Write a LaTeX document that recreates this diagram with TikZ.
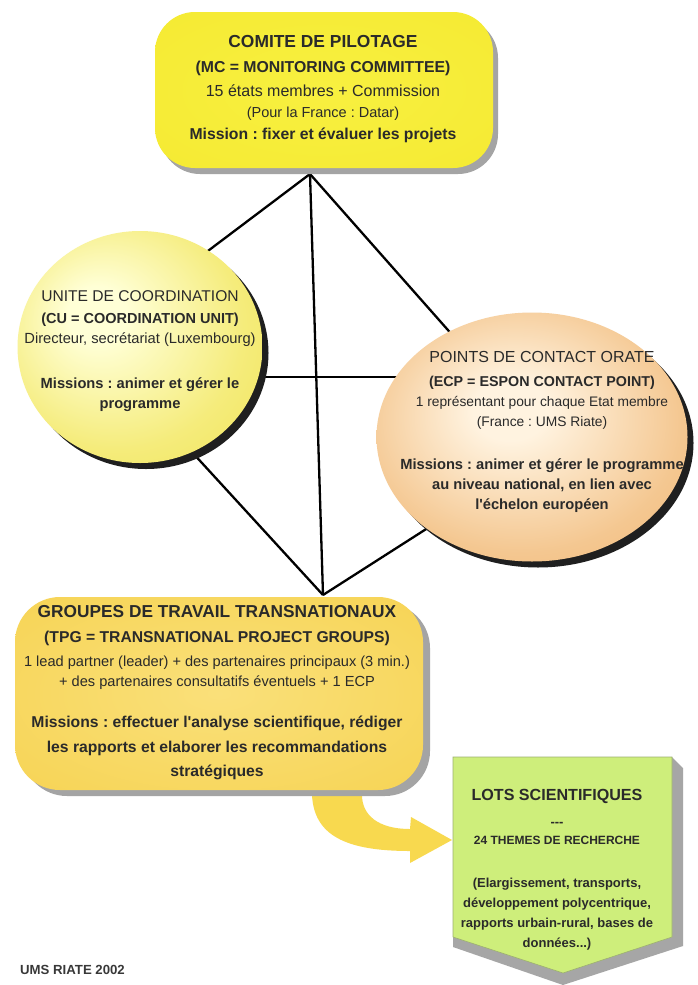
\documentclass[tikz,border=0pt]{standalone}
\usepackage{fontspec}
\newfontfamily\arialf{Liberation Sans}
\usetikzlibrary{shapes.geometric,shadows}
\frenchspacing
\definecolor{txtc}{HTML}{2A2A2A}
\definecolor{cpin}{HTML}{F8F040}
\definecolor{cpout}{HTML}{F3E62A}
\definecolor{cuin}{HTML}{FFFFD6}
\definecolor{cuout}{HTML}{EEDF3E}
\definecolor{ecpin}{HTML}{FFF3E0}
\definecolor{ecpout}{HTML}{EDAA5C}
\definecolor{tpgin}{HTML}{FAE07A}
\definecolor{tpgout}{HTML}{F5CF46}
\definecolor{lotc}{HTML}{CEEE7B}
\definecolor{lotedge}{HTML}{9DB070}
\definecolor{bevel}{HTML}{A6A6A6}
\definecolor{boxshadow}{HTML}{A4A4A4}
\definecolor{arrowc}{HTML}{F8D94F}
\pgfdeclareradialshading{cushade}{\pgfpoint{-10bp}{8bp}}{color(0bp)=(cuin); color(6bp)=(cuin); color(26bp)=(cuin!40!cuout); color(50bp)=(cuout)}
\pgfdeclareradialshading{ecpshade}{\pgfpoint{-4bp}{6bp}}{color(0bp)=(ecpin); color(6bp)=(ecpin); color(26bp)=(ecpin!40!ecpout); color(50bp)=(ecpout)}
\pgfdeclareradialshading{cpshade}{\pgfpoint{0bp}{0bp}}{color(0bp)=(cpin); color(30bp)=(cpin!50!cpout); color(52bp)=(cpout)}
\pgfdeclareradialshading{tpgshade}{\pgfpoint{0bp}{0bp}}{color(0bp)=(tpgin); color(30bp)=(tpgin!40!tpgout); color(52bp)=(tpgout)}
\newcommand\setsz[1]{\fontsize{#1}{20}\selectfont}
\tikzset{
  conn/.style={line width=2.3pt, black},
  lbl/.style={align=center, inner sep=0pt, text=txtc, font=\arialf\fontsize{14.6}{20}\selectfont},
  rbox/.style={rectangle, inner sep=0pt, shade, draw=none},
  cshadow/.style={drop shadow={shadow xshift=6pt, shadow yshift=-6pt, fill=black!88, opacity=1}},
  bshadow/.style={drop shadow={shadow xshift=5pt, shadow yshift=-6pt, fill=boxshadow, opacity=1}}
}
\begin{document}
\begin{tikzpicture}[x=1pt,y=-1pt]
\useasboundingbox (0,0) rectangle (697,985);
\fill[white] (0,0) rectangle (697,985);

% connector points
\coordinate (apex) at (310,174);
\coordinate (base) at (323,595);
\coordinate (cuU) at (180,272);
\coordinate (ecpU) at (470,355);
\coordinate (cuM) at (200,377);
\coordinate (ecpM) at (450,377);
\coordinate (cuB) at (180,439);
\coordinate (ecpB) at (470,501);
\draw[conn] (apex) -- (cuU);
\draw[conn] (apex) -- (ecpU);
\draw[conn] (apex) -- (base);
\draw[conn] (cuM) -- (ecpM);
\draw[conn] (cuB) -- (base);
\draw[conn] (ecpB) -- (base);

% curved arrow
\fill[arrowc] (312,780) -- (312,795) .. controls (314,835) and (345,851) .. (410,851)
  -- (410,863) -- (452,840) -- (411,817) -- (410,829)
  .. controls (378,829) and (362,815) .. (362,795) -- (362,780) -- cycle;

% top box
\node[rbox, bshadow, shading=cpshade, minimum width=338pt, minimum height=156pt, rounded corners=40pt] (cp) at (324,90) {};
% left circle
\node[ellipse, inner sep=0pt, shade, shading=cushade, cshadow, minimum width=245pt, minimum height=232pt] (cu) at (140,347) {};
% right circle
\node[ellipse, inner sep=0pt, shade, shading=ecpshade, cshadow, minimum width=311pt, minimum height=249pt] (ecp) at (532,437) {};
% bottom box
\node[rbox, drop shadow={shadow xshift=7pt, shadow yshift=-6pt, fill=boxshadow, opacity=1}, shading=tpgshade, minimum width=408pt, minimum height=193pt, rounded corners=45pt] (tpg) at (219,693.5) {};

% lots box with bevel
\fill[bevel] (453,757) -- (672,757) -- (683,768) -- (683,946) -- (563,985) -- (453,947) -- cycle;
\filldraw[fill=lotc, draw=lotedge, line width=0.6pt] (453,757) -- (672,757) -- (672,937) -- (563,973) -- (453,937) -- cycle;

% texts
\node[lbl] (cptext) at (323,89) {%
{\setsz{17.4}\bfseries COMITE DE PILOTAGE}\\[5pt]
{\setsz{15.8}\bfseries (MC = MONITORING COMMITTEE)}\\[4pt]
{\setsz{16}15 états membres + Commission}\\[1pt]
{\setsz{14.5}(Pour la France : Datar)}\\[2pt]
{\setsz{15.75}\bfseries Mission : fixer et évaluer les projets}};

\node[lbl] (cutext) at (140,351.5) {%
{\setsz{15.6}UNITE DE COORDINATION}\\[2pt]
{\setsz{14.5}\bfseries (CU = COORDINATION UNIT)}\\
{\setsz{14.7}Directeur, secrétariat (Luxembourg)}\\[25pt]
{\setsz{14.7}\bfseries Missions : animer et gérer le}\\
{\setsz{14.7}\bfseries programme}};

\node[lbl] (ecptext) at (542,431.5) {%
{\setsz{16}POINTS DE CONTACT ORATE}\\[4pt]
{\setsz{14.3}\bfseries (ECP = ESPON CONTACT POINT)}\\
{\setsz{13.8}1 représentant pour chaque Etat membre}\\
{\setsz{13.8}(France : UMS Riate)}\\[23pt]
{\setsz{14.7}\bfseries Missions : animer et gérer le programme}\\
{\setsz{14.7}\bfseries au niveau national, en lien avec}\\
{\setsz{14.7}\bfseries l'échelon européen}};

\node[lbl] (tpgtext) at (217,692.5) {%
{\setsz{17.3}\bfseries GROUPES DE TRAVAIL TRANSNATIONAUX}\\[5pt]
{\setsz{15.7}\bfseries (TPG = TRANSNATIONAL PROJECT GROUPS)}\\[4pt]
{\setsz{14.6}1 lead partner (leader) + des partenaires principaux (3 min.)}\\
{\setsz{14.6}+ des partenaires consultatifs éventuels + 1 ECP}\\[21pt]
{\setsz{15.7}\bfseries Missions : effectuer l'analyse scientifique, rédiger}\\[5pt]
{\setsz{15.7}\bfseries les rapports et elaborer les recommandations}\\[4pt]
{\setsz{15.7}\bfseries stratégiques}};

\node[lbl] (lotstext) at (557,870) {%
{\setsz{16.1}\bfseries LOTS SCIENTIFIQUES}\\[6pt]
{\setsz{13}\bfseries \mbox{-}\mbox{-}\mbox{-}}\\[-2pt]
{\setsz{12}\bfseries 24 THEMES DE RECHERCHE}\\[23pt]
{\setsz{13}\bfseries (Elargissement, transports,}\\
{\setsz{13}\bfseries développement polycentrique,}\\
{\setsz{13}\bfseries rapports urbain-rural, bases de}\\
{\setsz{13}\bfseries données...)}};

\node[lbl, anchor=west, text=black!78] (footer) at (20,970) {\setsz{13.2}\bfseries UMS RIATE 2002};
\end{tikzpicture}
\end{document}
